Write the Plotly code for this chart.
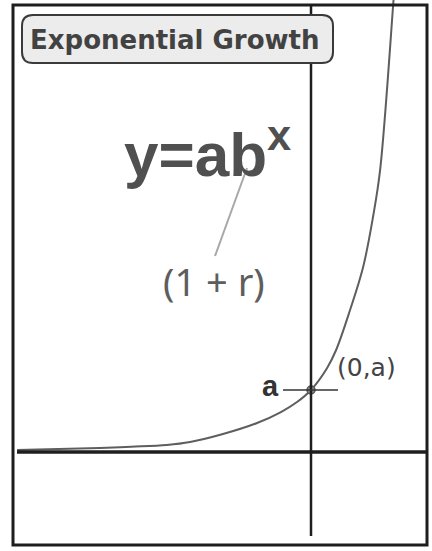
import plotly.graph_objects as go

# Figure size in pixels
W, H = 432, 551

# Sampled points along the growth curve (x in axis units, y in units of a)
curve_x = [-9.48, -6.81, -5.80, -4.65, -3.90, -2.84, -1.74, -0.97, -0.45, 0.0, 0.52, 0.81, 1.26, 1.68, 2.0, 2.23, 2.65, 2.70]
curve_y = [0.032, 0.065, 0.085, 0.113, 0.161, 0.29, 0.468, 0.645, 0.806, 1.0, 1.355, 1.645, 2.29, 2.98, 3.79, 4.55, 7.21, 7.55]

# The y-intercept (0, a)
point_x = [0]
point_y = [1]

title_text = "Exponential Growth"
formula_text = "y=ab<sup>x</sup>"
growth_text = "(1 + r)"
point_text = "(0,a)"
a_text = "a"

# Axis scale: origin pixel position and pixels per unit
X0_PX, Y0_PX = 311, 452
UX, UY = 31.0, 62.0


def px(x):
    return x / W


def py(y):
    return 1 - y / H


def rounded_rect(x0, y0, x1, y1, r):
    pts = [
        f"M {px(x0 + r)} {py(y0)}",
        f"L {px(x1 - r)} {py(y0)}",
        f"Q {px(x1)} {py(y0)} {px(x1)} {py(y0 + r)}",
        f"L {px(x1)} {py(y1 - r)}",
        f"Q {px(x1)} {py(y1)} {px(x1 - r)} {py(y1)}",
        f"L {px(x0 + r)} {py(y1)}",
        f"Q {px(x0)} {py(y1)} {px(x0)} {py(y1 - r)}",
        f"L {px(x0)} {py(y0 + r)}",
        f"Q {px(x0)} {py(y0)} {px(x0 + r)} {py(y0)}",
        "Z",
    ]
    return " ".join(pts)


fig = go.Figure()

fig.add_trace(go.Scatter(
    x=curve_x, y=curve_y, mode="lines",
    line=dict(color="#5e5e5e", width=2, shape="spline", smoothing=1.0),
    hoverinfo="skip", showlegend=False,
))

fig.add_trace(go.Scatter(
    x=point_x, y=point_y, mode="markers",
    marker=dict(size=8, color="#8a8a8a", line=dict(color="#555555", width=1.5)),
    hoverinfo="skip", showlegend=False,
))

shapes = [
    # outer frame
    dict(type="rect", xref="paper", yref="paper",
         x0=px(13), x1=px(427), y0=py(545), y1=py(5),
         line=dict(color="#1e1e1e", width=3)),
    # x axis
    dict(type="line", xref="paper", yref="paper",
         x0=px(17), x1=px(427), y0=py(Y0_PX), y1=py(Y0_PX),
         line=dict(color="#1e1e1e", width=3.5)),
    # y axis
    dict(type="line", xref="paper", yref="paper",
         x0=px(X0_PX), x1=px(X0_PX), y0=py(536), y1=py(6),
         line=dict(color="#1e1e1e", width=2.5)),
    # tick mark at a
    dict(type="line", xref="paper", yref="paper",
         x0=px(283), x1=px(338), y0=py(390), y1=py(390),
         line=dict(color="#333333", width=1.5)),
    # pointer from (1 + r) to b
    dict(type="line", xref="paper", yref="paper",
         x0=px(215), x1=px(247), y0=py(256), y1=py(168),
         line=dict(color="#a8a8a8", width=2)),
    # title badge
    dict(type="path", xref="paper", yref="paper",
         path=rounded_rect(22, 15, 333, 63, 11),
         fillcolor="#ececec", line=dict(color="#3a3a3a", width=2)),
]

annotations = [
    dict(text=f"<b>{title_text}</b>", x=px(175), y=py(40),
         font=dict(family="DejaVu Sans", size=26, color="#424242")),
    dict(text=f"<b>{formula_text}</b>", x=px(207), y=py(150),
         font=dict(family="Liberation Sans", size=62, color="#505050")),
    dict(text=growth_text, x=px(214), y=py(281),
         font=dict(family="Noto Sans", size=38, color="#5e5e5e")),
    dict(text=point_text, x=px(366), y=py(367),
         font=dict(family="DejaVu Sans", size=25, color="#444444")),
    dict(text=f"<b>{a_text}</b>", x=px(270), y=py(386),
         font=dict(family="Liberation Sans", size=29, color="#333333")),
]
for a in annotations:
    a.update(xref="paper", yref="paper", showarrow=False,
             xanchor="center", yanchor="middle")

fig.update_layout(
    width=W, height=H,
    margin=dict(l=0, r=0, t=0, b=0),
    paper_bgcolor="white", plot_bgcolor="white",
    shapes=shapes, annotations=annotations,
    xaxis=dict(range=[(0 - X0_PX) / UX, (W - X0_PX) / UX], visible=False,
               showgrid=False, zeroline=False, fixedrange=True),
    yaxis=dict(range=[(Y0_PX - H) / UY, Y0_PX / UY], visible=False,
               showgrid=False, zeroline=False, fixedrange=True),
)

fig.write_html("out.html")
